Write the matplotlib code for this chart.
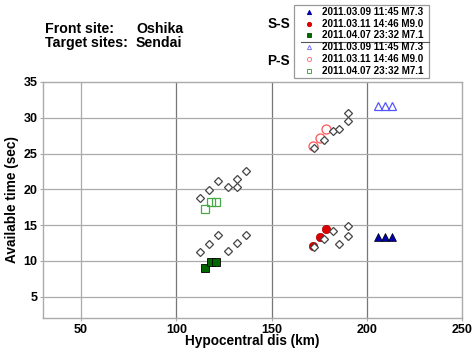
import matplotlib
matplotlib.use("Agg")
import matplotlib.pyplot as plt
from matplotlib.lines import Line2D
from matplotlib.patches import Rectangle

plt.rcParams['font.family'] = ['Liberation Sans', 'DejaVu Sans']
plt.rcParams['font.weight'] = 'bold'

# Gray diamonds (reference points)
diam_ps_x = [112.4, 117.1, 121.8, 127.1, 131.8, 131.8, 136.5,
             172.2, 177.6, 182.3, 185.3, 190.2, 190.2]
diam_ps_y = [18.8, 19.9, 21.1, 20.3, 20.3, 21.5, 22.6,
             25.8, 26.9, 28.1, 28.4, 29.5, 30.7]
diam_ss_x = [112.4, 117.1, 121.8, 127.1, 131.8, 136.5,
             172.2, 177.6, 182.3, 185.3, 190.2, 190.2]
diam_ss_y = [11.2, 12.4, 13.6, 11.3, 12.5, 13.6,
             11.9, 13.1, 14.2, 12.4, 13.45, 14.8]

# S-S events
ss_m73_x = [206.0, 209.5, 213.0]; ss_m73_y = [13.3, 13.3, 13.3]
ss_m90_x = [171.8, 175.7, 178.8]; ss_m90_y = [12.1, 13.3, 14.4]
ss_m71_x = [114.8, 118.1, 120.9]; ss_m71_y = [9.0, 9.9, 9.9]
# P-S events
ps_m73_x = [206.0, 209.5, 213.0]; ps_m73_y = [31.6, 31.6, 31.6]
ps_m90_x = [171.8, 175.7, 178.8]; ps_m90_y = [26.1, 27.2, 28.4]
ps_m71_x = [114.8, 118.1, 120.9]; ps_m71_y = [17.2, 18.2, 18.2]

labels = ["2011.03.09 11:45 M7.3", "2011.03.11 14:46 M9.0", "2011.04.07 23:32 M7.1"]
xticks = [50, 100, 150, 200, 250]
yticks = [5, 10, 15, 20, 25, 30, 35]

W, H = 474, 351
fig = plt.figure(figsize=(W/100, H/100), dpi=100)
ax = fig.add_axes([43/W, 1-318/H, (462-43)/W, (318-82)/H])
ax.set_xlim(30, 250)
ax.set_ylim(2, 35)
for v in [50, 100, 150, 200]:
    ax.axvline(v, color='#777777' if v > 50 else '#aaaaaa', lw=0.9, zorder=0)
for v in [5, 10, 15, 20, 25, 30]:
    ax.axhline(v, color='#aaaaaa', lw=0.9, zorder=0)
for s in ax.spines.values():
    s.set_color('#aaaaaa'); s.set_linewidth(1.0)

dkw = dict(ls='none', marker='D', ms=3.8, mfc='white', mec='#444444', mew=0.9, zorder=3)
ax.plot(diam_ps_x, diam_ps_y, **dkw)
ax.plot(diam_ss_x, diam_ss_y, **dkw)

ax.plot(ss_m73_x, ss_m73_y, ls='none', marker='^', ms=6, mfc='#0000aa', mec='#000000', mew=0.5, zorder=4)
ax.plot(ss_m90_x, ss_m90_y, ls='none', marker='o', ms=6, mfc='#dd0000', mec='#aa0000', mew=0.5, zorder=2)
ax.plot(ss_m71_x, ss_m71_y, ls='none', marker='s', ms=5.5, mfc='#006600', mec='#000000', mew=0.6, zorder=4)
ax.plot(ps_m73_x, ps_m73_y, ls='none', marker='^', ms=6, mfc='none', mec='#5555ff', mew=0.9, zorder=4)
ax.plot(ps_m90_x, ps_m90_y, ls='none', marker='o', ms=6.5, mfc='none', mec='#ff5555', mew=0.9, zorder=2)
ax.plot(ps_m71_x, ps_m71_y, ls='none', marker='s', ms=5.5, mfc='none', mec='#44aa44', mew=0.9, zorder=4)

ax.set_xticks(xticks)
ax.set_yticks(yticks)
ax.tick_params(length=2, color='#aaaaaa', labelsize=9, pad=2)
for t in ax.get_xticklabels() + ax.get_yticklabels():
    t.set_fontweight('bold')
ax.set_xlabel("Hypocentral dis (km)", fontsize=9.8, fontweight='bold', labelpad=-1)
ax.set_ylabel("Available time (sec)", fontsize=9.8, fontweight='bold', labelpad=3)

# Header text
fig.text(45/W, 1-29/H, "Front site:", fontsize=10.2, fontweight='bold', va='center')
fig.text(136/W, 1-29/H, "Oshika", fontsize=10.2, fontweight='bold', va='center')
fig.text(45/W, 1-43/H, "Target sites:", fontsize=10.2, fontweight='bold', va='center')
fig.text(136/W, 1-43/H, "Sendai", fontsize=10.2, fontweight='bold', va='center')
fig.text(290/W, 1-24/H, "S-S", fontsize=9.8, fontweight='bold', va='center', ha='right')
fig.text(290/W, 1-61/H, "P-S", fontsize=9.8, fontweight='bold', va='center', ha='right')

# Legend box
fig.add_artist(Rectangle((294/W, 1-78/H), (429-294)/W, (78-5)/H, transform=fig.transFigure,
                         fill=False, ec='#999999', lw=0.9))
fig.add_artist(Line2D([301/W, 429/W], [1-42/H, 1-42/H], transform=fig.transFigure, color='#555555', lw=0.8))
rows_y = [12.3, 24, 35.3, 47, 59.3, 70.7]
styles = [
    dict(marker='^', mfc='#0000aa', mec='#0000aa'),
    dict(marker='o', mfc='#dd0000', mec='#dd0000'),
    dict(marker='s', mfc='#006600', mec='#006600'),
    dict(marker='^', mfc='none', mec='#7777ff'),
    dict(marker='o', mfc='none', mec='#ff7777'),
    dict(marker='s', mfc='none', mec='#44aa44'),
]
for i, (yy, st) in enumerate(zip(rows_y, styles)):
    fig.add_artist(Line2D([309/W], [1-yy/H], transform=fig.transFigure, ls='none', ms=3, mew=0.7, **st))
    fig.text(322/W, 1-yy/H, labels[i % 3], fontsize=7.1, fontweight='bold', va='center')

fig.savefig("out.png", dpi=100)
